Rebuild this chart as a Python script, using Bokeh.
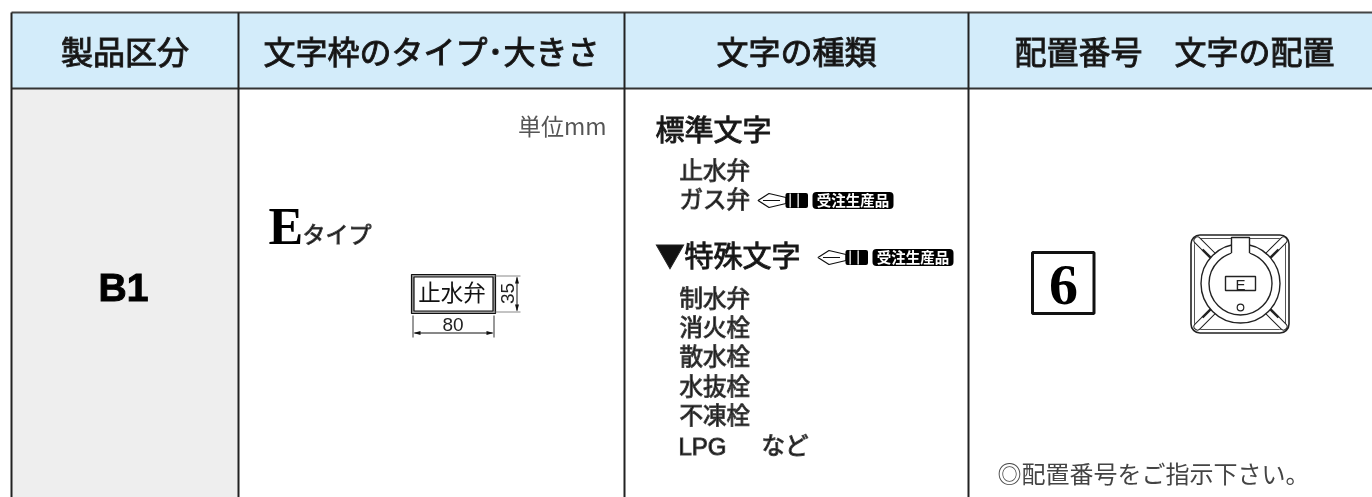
import math
from bokeh.plotting import figure
from bokeh.models import Range1d
from bokeh.core.properties import value
from bokeh.embed import file_html
from bokeh.resources import INLINE

# ---- content ----
headers = ["製品区分", "文字枠のタイプ･大きさ", "文字の種類", "配置番号　文字の配置"]
product = "B1"
unit = "単位mm"
type_letter = "E"
type_suffix = "タイプ"
plate_text = "止水弁"
plate_w = "80"
plate_h = "35"
std_title = "標準文字"
std_items = ["止水弁", "ガス弁"]
spc_title = "▼特殊文字"
spc_items = ["制水弁", "消火栓", "散水栓", "水抜栓", "不凍栓", "LPG"]
spc_suffix = "など"
badge = "受注生産品"
pos_no = "6"
plate_letter = "E"
note = "◎配置番号をご指示下さい。"

JP = value("Noto Sans CJK JP")
SANS = value("Liberation Sans")
SERIF = value("Liberation Serif")

W, H = 1372, 497
p = figure(width=W, height=H, output_backend="svg", toolbar_location=None,
           x_range=Range1d(0, W), y_range=Range1d(H, 0),
           x_axis_type=None, y_axis_type=None, min_border=0, outline_line_color=None,
           background_fill_color="white", border_fill_color="white",
           styles={"position": "fixed", "left": "0px", "top": "0px"})
p.grid.visible = False


def txt(x, y, s, size, font=JP, color="#111111", align="left", style="normal", angle=0, outline=None):
    if font is JP:
        y -= 0.115 * size
    p.text([x], [y], text=[s], text_font=font, text_font_size=f"{size}px", text_color=color,
           text_align=align, text_baseline="middle", text_font_style=style, angle=angle,
           text_outline_color=outline)


def ln(xs, ys, color="#111111", w=1.0):
    p.line(xs, ys, line_color=color, line_width=w)


# ---- table ----
p.quad(left=[11], right=[W], top=[12], bottom=[88], fill_color="#d3ecfa", line_color=None)
p.quad(left=[11], right=[238], top=[88], bottom=[H], fill_color="#eeeeee", line_color=None)
ln([11, W], [12, 12], "#444444", 2)
ln([11, W], [88, 88], "#333333", 2)
for x in (11, 238, 624, 968):
    ln([x, x], [12, H], "#222222", 2)

D = "#222222"
txt(124.5, 53, headers[0], 32, JP, align="center", outline=D)
txt(431, 53, headers[1], 32, JP, align="center", outline=D)
txt(796, 53, headers[2], 32, JP, align="center", outline=D)
txt(1174, 53, headers[3], 32, JP, align="center", outline=D)

# ---- product ----
txt(123, 287, product, 39, SANS, "#000000", "center", "bold", outline="#000000")

# ---- size column ----
txt(606, 127, unit, 23, JP, "#555555", "right")
txt(268, 226, type_letter, 52, SERIF, "#000000", "left", "bold")
txt(302, 235, type_suffix, 23, JP, outline="#444444")

p.quad(left=[411], right=[495], top=[274], bottom=[313], fill_color="#999999", line_color="#111111", line_width=1.2)
p.quad(left=[413.5], right=[492.5], top=[276.5], bottom=[310.5], fill_color="white", line_color="#111111", line_width=1.2)
txt(451.5, 293, plate_text, 22.5, JP, align="center")
txt(506.5, 293, plate_h, 19, SANS, "#222222", "center", angle=math.pi / 2)
txt(452.5, 324, plate_w, 19, SANS, "#222222", "center")
ln([495, 520], [275.5, 275.5], "#888888", 1)
ln([495, 520], [311.5, 311.5], "#888888", 1)
ln([516.5, 516.5], [277, 310], "#111111", 1)
ln([412.5, 412.5], [315, 337], "#333333", 1)
ln([493.5, 493.5], [315, 337], "#333333", 1)
ln([414, 492], [332.5, 332.5], "#111111", 1)
p.patches([[516.5, 514.5, 518.5], [516.5, 514.5, 518.5]], [[276, 283, 283], [311, 304, 304]], fill_color="#111111", line_color=None)
p.patches([[413, 420, 420], [493, 486, 486]], [[332.5, 330.5, 334.5], [332.5, 330.5, 334.5]], fill_color="#111111", line_color=None)

# ---- character kinds ----
M = "#444444"
txt(655, 131, std_title, 29, JP, outline=D)
for y, s in zip((171, 200), std_items):
    txt(679, y, s, 23.5, JP, outline=M)
txt(655, 257, spc_title, 29, JP, outline=D)
for y, s in zip((299, 328, 357, 387, 416), spc_items[:5]):
    txt(679, y, s, 23.5, JP, outline=M)
txt(678, 446, spc_items[5], 24, SANS, "#111111", outline=M)
txt(761, 446, spc_suffix, 23.5, JP, outline=M)


def pen_badge(x, y):
    # nib outline, relative to the tip of the pen
    p.patch([x, x + 11, x + 28, x + 28, x + 11], [y, y - 7, y - 3, y + 3, y + 7], fill_color="white", line_color="#111111", line_width=1.2)
    ln([x + 5, x + 22], [y, y], "#111111", 1)
    p.quad(left=[x + 27.5], right=[x + 50], top=[y - 7.5], bottom=[y + 7.5], fill_color="#000000", line_color=None, border_radius=2)
    p.quad(left=[x + 31.5, x + 39.5], right=[x + 32.8, x + 40.8], top=[y - 7, y - 7], bottom=[y + 7, y + 7], fill_color="white", line_color=None)
    p.quad(left=[x + 54.5], right=[x + 135.5], top=[y - 8.5], bottom=[y + 8.5], fill_color="#000000", line_color=None, border_radius=4)
    txt(x + 95, y + 0.5, badge, 14.5, JP, "white", "center", "bold")


pen_badge(757.5, 200)
pen_badge(817.5, 257)

# ---- position number ----
p.quad(left=[1032], right=[1093.5], top=[252], bottom=[313], fill_color="white", line_color="#111111", line_width=3)
txt(1063, 284, pos_no, 58, SERIF, "#000000", "center", "bold")

# ---- fitting drawing ----
p.quad(left=[1190.5], right=[1288.5], top=[234.5], bottom=[332.5], fill_color="white", line_color="#222222", line_width=1.6, border_radius=9)
p.quad(left=[1194], right=[1285], top=[238], bottom=[329], fill_color="white", line_color="#555555", line_width=1, border_radius=6)
cx, cy = 1240, 283
for sx, sy in ((-1, -1), (1, -1), (-1, 1), (1, 1)):
    xs = [cx + sx * 43, cx + sx * 25]
    ys = [cy + sy * 43, cy + sy * 25]
    p.line(xs, ys, line_color="#222222", line_width=8, line_cap="round")
    p.line(xs, ys, line_color="white", line_width=6, line_cap="round")
    p.line([cx + sx * 38, cx + sx * 26], [cy + sy * 34, cy + sy * 22], line_color="#222222", line_width=2.4)
p.circle([cx], [cy], radius=39.5, fill_color="white", line_color="#222222", line_width=1.4)
p.circle([cx], [cy], radius=31.5, fill_color="white", line_color="#222222", line_width=1.4)
p.patch([1231, 1249, 1249, 1255, 1225, 1231], [237, 237, 253, 258, 258, 253], fill_color="white", line_color=None)
p.line([1231, 1231, 1249, 1249], [252.5, 237, 237, 252.5], line_color="#222222", line_width=1.4)
p.quad(left=[1225], right=[1255], top=[276], bottom=[290], fill_color="white", line_color="#222222", line_width=1.4)
txt(1240, 283.5, plate_letter, 15, SANS, "#222222", "center")
p.circle([cx], [307], radius=3.3, fill_color="white", line_color="#222222", line_width=1.2)

txt(997, 475, note, 24, JP, "#444444")

open("out.html", "w").write(file_html(p, INLINE))
